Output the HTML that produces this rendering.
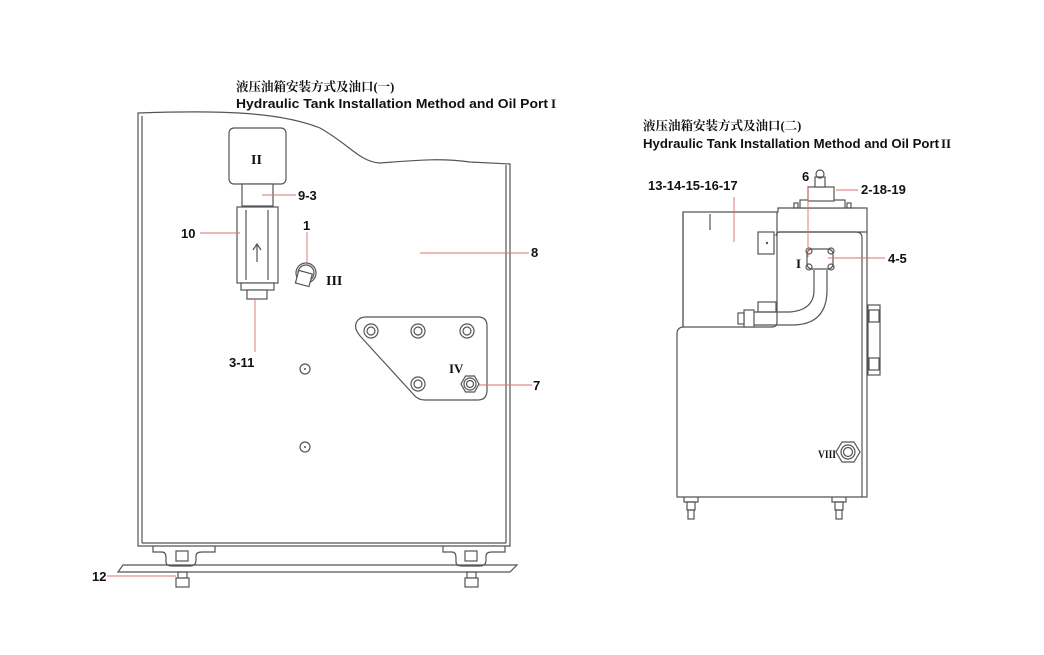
<!DOCTYPE html>
<html><head><meta charset="utf-8"><style>
html,body{margin:0;padding:0;background:#fff;}
svg{display:block}
.t{font-family:"Liberation Sans","Noto Sans CJK SC",sans-serif;fill:#111}
.cn{font-family:"Liberation Serif","Noto Serif CJK SC",serif;font-weight:bold;fill:#111}
.r{font-family:"Liberation Serif",serif;fill:#111}
.l{stroke:#555;stroke-width:1.2;fill:none}
.f{stroke:#555;stroke-width:1.2;fill:#fff}
.red{stroke:#d87070;stroke-width:0.9;fill:none}
</style></head><body>
<svg width="1044" height="655" viewBox="0 0 1044 655" xmlns="http://www.w3.org/2000/svg">
<!-- titles -->
<text class="cn" x="236" y="91" font-size="12.5">液压油箱安装方式及油口(一)</text>
<text class="t" x="236" y="108" font-size="12.5" font-weight="bold" textLength="312" lengthAdjust="spacingAndGlyphs">Hydraulic Tank Installation Method and Oil Port</text>
<text class="r" x="551" y="108" font-size="13" font-weight="bold">I</text>
<text class="cn" x="643" y="130" font-size="12.5">液压油箱安装方式及油口(二)</text>
<text class="t" x="643" y="148" font-size="12.5" font-weight="bold" textLength="296" lengthAdjust="spacingAndGlyphs">Hydraulic Tank Installation Method and Oil Port</text>
<text class="r" x="941" y="148" font-size="13" font-weight="bold">II</text>

<!-- LEFT TANK -->
<path class="l" d="M138,113 C220,110 280,112 320,128 C350,145 360,162 380,163 C420,160 440,158 470,162 L510,164 L510,546 L138,546 Z"/>
<line class="l" x1="142" y1="116" x2="142" y2="543"/>
<line class="l" x1="506" y1="165" x2="506" y2="543"/>
<line class="l" x1="142" y1="543" x2="506" y2="543"/>
<!-- feet -->
<path class="l" d="M153,546 L153,552 L162,552 Q166,552 166,558 L166,562 Q166,566 172,566 L190,566 Q196,566 196,560 L196,556 Q196,552 202,552 L215,552 L215,546"/>
<path class="l" d="M443,546 L443,552 L452,552 Q456,552 456,558 L456,562 Q456,566 462,566 L480,566 Q486,566 486,560 L486,556 Q486,552 492,552 L505,552 L505,546"/>
<rect class="f" x="176" y="551" width="12" height="10"/>
<rect class="f" x="465" y="551" width="12" height="10"/>
<!-- base plate -->
<path class="l" d="M123,565 L517,565 L510,572 L118,572 Z"/>
<rect class="l" x="178" y="572" width="9" height="6"/>
<rect class="f" x="176" y="578" width="13" height="9"/>
<rect class="l" x="467" y="572" width="9" height="6"/>
<rect class="f" x="465" y="578" width="13" height="9"/>
<!-- filter -->
<rect class="f" x="229" y="128" width="57" height="56" rx="5"/>
<text class="r" x="251" y="164" font-size="14" font-weight="bold">II</text>
<rect class="f" x="242" y="184" width="31" height="22"/>
<rect class="f" x="237" y="207" width="41" height="76"/>
<line class="l" x1="246" y1="210" x2="246" y2="280"/>
<line class="l" x1="268" y1="210" x2="268" y2="280"/>
<path class="l" d="M257,262 L257,245 M253,250 L257,244 L261,250"/>
<rect class="f" x="241" y="283" width="33" height="7"/>
<rect class="f" x="247" y="290" width="20" height="9"/>
<!-- part 1 -->
<circle class="l" cx="306" cy="273" r="10"/>
<circle class="l" cx="306" cy="273" r="8"/>
<rect class="f" x="297" y="272" width="14" height="13" transform="rotate(15 304 278)"/>
<text class="r" x="326" y="285" font-size="14" font-weight="bold">III</text>
<!-- small circles -->
<circle class="l" cx="305" cy="369" r="5"/><circle cx="305" cy="369" r="1" fill="#555"/>
<circle class="l" cx="305" cy="447" r="5"/><circle cx="305" cy="447" r="1" fill="#555"/>
<!-- plate -->
<path class="l" d="M366,317 L478,317 Q487,317 487,326 L487,390 Q487,400 478,400 L425,400 Q418,400 414,395 L361,337 Q352,327 358,320 Q361,317 366,317 Z"/>
<g class="l">
<circle cx="371" cy="331" r="7"/><circle cx="371" cy="331" r="4"/>
<circle cx="418" cy="331" r="7"/><circle cx="418" cy="331" r="4"/>
<circle cx="467" cy="331" r="7"/><circle cx="467" cy="331" r="4"/>
<circle cx="418" cy="384" r="7"/><circle cx="418" cy="384" r="4"/>
<polygon points="479,384 474.5,392 465.5,392 461,384 465.5,376 474.5,376"/>
<circle cx="470" cy="384" r="6"/><circle cx="470" cy="384" r="3.5"/>
</g>
<text class="r" x="449" y="373" font-size="13" font-weight="bold">IV</text>

<!-- left labels -->
<g class="t" font-size="13" font-weight="bold">
<text x="298" y="200">9-3</text>
<text x="181" y="238">10</text>
<text x="303" y="230">1</text>
<text x="531" y="257">8</text>
<text x="229" y="367">3-11</text>
<text x="533" y="390">7</text>
<text x="92" y="581">12</text>
</g>
<g class="red">
<line x1="262" y1="195" x2="296" y2="195"/>
<line x1="200" y1="233" x2="240" y2="233"/>
<line x1="307" y1="232" x2="307" y2="266"/>
<line x1="420" y1="253" x2="529" y2="253"/>
<line x1="255" y1="299" x2="255" y2="352"/>
<line x1="479" y1="385" x2="532" y2="385"/>
<line x1="107" y1="576" x2="176" y2="576"/>
</g>

<!-- RIGHT TANK -->
<path class="l" d="M683,212 L778,212 L778,208 L867,208 L867,497 L677,497 L677,334 Q677,327 684,327 L683,327 Z"/>
<line class="l" x1="683" y1="212" x2="683" y2="327"/>
<path class="l" d="M684,327 L772,327 Q777,327 777,322 L777,212"/>
<line class="l" x1="778" y1="232" x2="867" y2="232"/>
<path class="l" d="M776,236 Q776,232 780,232 M780,232 L856,232 Q862,232 862,238 L862,497"/>
<line class="l" x1="710" y1="214" x2="710" y2="230"/>
<rect class="l" x="758" y="232" width="16" height="22"/>
<circle cx="767" cy="243" r="1.2" fill="#555"/>
<rect class="l" x="758" y="302" width="18" height="10"/>
<!-- cap -->
<rect class="f" x="800" y="200" width="45" height="8"/>
<rect class="f" x="808" y="187" width="26" height="14"/>
<rect class="f" x="815" y="177" width="10" height="10"/>
<circle class="l" cx="820" cy="174" r="4"/>
<rect class="l" x="794" y="203" width="4" height="5"/><rect class="l" x="847" y="203" width="4" height="5"/>
<!-- flange -->
<rect class="f" x="807" y="249" width="26" height="20" rx="5"/>
<circle class="l" cx="809" cy="251" r="3"/><circle class="l" cx="831" cy="251" r="3"/>
<circle class="l" cx="809" cy="267" r="3"/><circle class="l" cx="831" cy="267" r="3"/>
<text class="r" x="796" y="268" font-size="13" font-weight="bold">I</text>
<!-- pipe -->
<path class="l" d="M814,270 L814,290 Q814,310 790,312 L752,312"/>
<path class="l" d="M827,270 L827,290 Q827,325 792,325 L752,325"/>
<rect class="f" x="744" y="310" width="10" height="17"/>
<rect class="f" x="738" y="313" width="6" height="11"/>
<!-- gauge -->
<rect class="l" x="868" y="305" width="12" height="70"/>
<rect class="f" x="869" y="310" width="10" height="12"/>
<rect class="f" x="869" y="358" width="10" height="12"/>
<!-- VIII -->
<polygon class="l" points="860,452 854,462 842,462 836,452 842,442 854,442"/>
<circle class="l" cx="848" cy="452" r="7"/><circle class="l" cx="848" cy="452" r="4.5"/>
<text class="r" x="818" y="458" font-size="12" font-weight="bold" textLength="18" lengthAdjust="spacingAndGlyphs">VIII</text>
<!-- feet -->
<g class="l">
<path d="M684,497 L684,502 L698,502 L698,497"/><rect x="687" y="502" width="8" height="8"/><rect x="688" y="510" width="6" height="9"/>
<path d="M832,497 L832,502 L846,502 L846,497"/><rect x="835" y="502" width="8" height="8"/><rect x="836" y="510" width="6" height="9"/>
</g>
<!-- right labels -->
<g class="t" font-size="13" font-weight="bold">
<text x="648" y="190">13-14-15-16-17</text>
<text x="802" y="181">6</text>
<text x="861" y="194">2-18-19</text>
<text x="888" y="263">4-5</text>
</g>
<g class="red">
<line x1="734" y1="197" x2="734" y2="242"/>
<line x1="808" y1="186" x2="808" y2="257"/>
<line x1="836" y1="190" x2="858" y2="190"/>
<line x1="828" y1="258" x2="885" y2="258"/>
</g>
</svg>
</body></html>
